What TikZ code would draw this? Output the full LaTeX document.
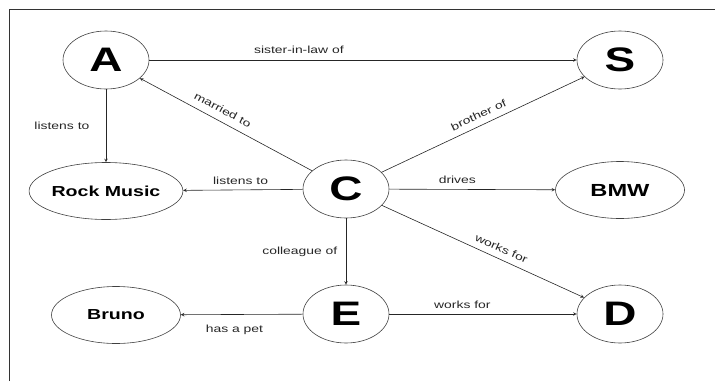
\documentclass[tikz,border=0pt]{standalone}
\usepackage{fontspec}
\setmainfont{Liberation Sans}[FakeStretch=1.35]
\usetikzlibrary{arrows, shapes.geometric, positioning}

\begin{document}
\begin{tikzpicture}[x=1pt, y=-1pt, >=stealth, line width=0.6pt,
    ent/.style={draw=black!75, ellipse, inner sep=0pt, minimum width=86pt, minimum height=58pt, font=\fontsize{34}{34}\selectfont\bfseries},
    thing/.style={draw=black!75, ellipse, inner sep=0pt, minimum width=129pt, minimum height=57pt, font=\fontsize{14.5}{15}\selectfont\bfseries},
    rel/.style={font=\fontsize{10.3}{11}\selectfont, text=black!85}]
    \useasboundingbox (0,0) rectangle (715,381);
    \draw[black!80, line width=0.8pt] (9,381) -- (9,9) -- (715,9);

    \node[ent] (A) at (106,60) {A};
    \node[ent] (S) at (620,60) {S};
    \node[ent] (C) at (346,189) {C};
    \node[ent] (E) at (346,314) {E};
    \node[ent] (D) at (620,314) {D};
    \node[thing] (rock) at (106,191) {Rock Music};
    \node[thing] (bmw) at (620,190) {\fontsize{17.5}{18}\selectfont BMW};
    \node[thing] (bruno) at (116,315) {Bruno};

    \draw[black!85]
    (A) edge[->] node[rel, above=3pt, pos=0.35] {sister-in-law of} (S)
    (A) edge[->] node[rel, left=13pt] {listens to} (rock)
    (A) edge[<-] node[rel, sloped, above=4pt, pos=0.45] {married to} (C)
    (C) edge[->] node[rel, sloped, above=3pt] {brother of} (S)
    (C) edge[->] node[rel, above=2pt, pos=0.52] {listens to} (rock)
    (C) edge[->] node[rel, above=2pt, pos=0.41] {drives} (bmw)
    (C) edge[->] node[rel, sloped, above=3pt, pos=0.57] {works for} (D)
    (C) edge[->] node[rel, left=5pt] {colleague of} (E)
    (E) edge[->] node[rel, below=7pt, pos=0.56] {has a pet} (bruno)
    (E) edge[->] node[rel, above=2pt, pos=0.39] {works for} (D);
\end{tikzpicture}
\end{document}
